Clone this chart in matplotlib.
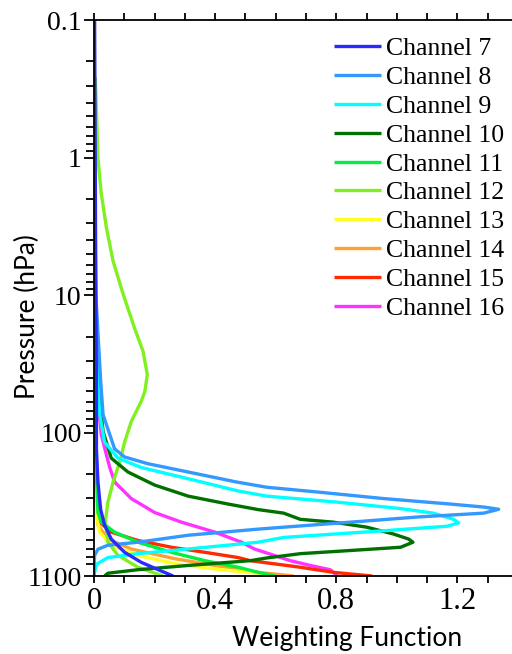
import numpy as np
import matplotlib
matplotlib.use("Agg")
import matplotlib.pyplot as plt
from matplotlib.ticker import LogLocator, NullFormatter, FixedLocator, FixedFormatter, MultipleLocator

plt.rcParams['font.family'] = 'serif'
plt.rcParams['font.serif'] = ['Liberation Serif', 'DejaVu Serif']

# weighting functions (pressure hPa, weight)
p7 = [0.1, 1, 10, 42, 131, 228, 362, 470, 593, 740, 875, 990, 1100]
w7 = [0.002, 0.004, 0.006, 0.008, 0.008, 0.013, 0.022, 0.035, 0.057, 0.101, 0.156, 0.212, 0.261]

p8 = [0.3, 1, 10, 42, 74, 103, 131, 150, 168, 193, 228, 249, 270, 301, 330, 347, 360,
      384, 410, 447, 486, 502, 556, 625, 657, 703, 778, 1100]
w8 = [0.0, 0.002, 0.006, 0.022, 0.03, 0.052, 0.068, 0.101, 0.178, 0.311, 0.47, 0.57, 0.74,
      0.956, 1.177, 1.287, 1.336, 1.287, 1.067, 0.846, 0.626, 0.542, 0.311, 0.145, 0.046,
      0.013, 0.002, 0.0]

p9 = [0.5, 1, 10, 42, 74, 117, 153, 179, 216, 265, 289, 319, 356, 384, 426, 452, 478,
      516, 577, 625, 700, 757, 808, 904, 1035, 1100]
w9 = [0.0, 0.001, 0.005, 0.013, 0.019, 0.035, 0.079, 0.156, 0.311, 0.476, 0.57, 0.8,
      1.012, 1.12, 1.187, 1.204, 1.166, 0.956, 0.626, 0.542, 0.311, 0.145, 0.046, 0.008,
      0.002, 0.0]

p10 = [0.5, 1, 10, 42, 98, 153, 193, 240, 289, 330, 362, 384, 426, 447, 486, 545, 593,
       625, 680, 718, 757, 813, 851, 922, 990, 1050, 1100]
w10 = [0.0, 0.001, 0.005, 0.013, 0.03, 0.057, 0.112, 0.2, 0.311, 0.443, 0.542, 0.626,
       0.681, 0.791, 0.901, 0.989, 1.039, 1.053, 1.012, 0.846, 0.681, 0.571, 0.516, 0.311,
       0.145, 0.046, 0.035]

p11 = [5, 50, 200, 380, 447, 528, 625, 740, 851, 950, 1035, 1100]
w11 = [0.0, 0.003, 0.008, 0.013, 0.024, 0.068, 0.145, 0.256, 0.366, 0.476, 0.542, 0.598]

p12 = [0.26, 0.45, 1.0, 1.83, 3.24, 5.65, 9.8, 17.4, 25.6, 37.8, 50, 59, 83, 117, 163,
       228, 319, 447, 625, 778, 950, 1100]
w12 = [0.004, 0.008, 0.013, 0.024, 0.041, 0.063, 0.096, 0.134, 0.162, 0.176, 0.168, 0.156,
       0.123, 0.101, 0.085, 0.063, 0.046, 0.037, 0.046, 0.079, 0.145, 0.228]

p13 = [5, 100, 400, 528, 660, 780, 904, 990, 1050, 1100]
w13 = [0.0, 0.004, 0.008, 0.019, 0.057, 0.145, 0.278, 0.421, 0.542, 0.55]

p14 = [5, 100, 300, 470, 593, 700, 824, 922, 1035, 1100]
w14 = [0.0, 0.004, 0.008, 0.013, 0.046, 0.123, 0.267, 0.399, 0.542, 0.659]

p15 = [5, 100, 270, 356, 447, 528, 607, 680, 740, 808, 851, 950, 1035, 1100]
w15 = [0.0, 0.002, 0.002, 0.008, 0.019, 0.057, 0.145, 0.256, 0.366, 0.476, 0.516, 0.681,
       0.791, 0.918]

p16 = [0.8, 10, 50, 103, 145, 179, 228, 301, 380, 447, 528, 625, 700, 851, 922, 990, 1100]
w16 = [0.0, 0.004, 0.01, 0.024, 0.041, 0.052, 0.068, 0.123, 0.2, 0.289, 0.399, 0.487,
       0.53, 0.648, 0.714, 0.78, 0.804]

labels = ["Channel %d" % i for i in range(7, 17)]
pressures = [p7, p8, p9, p10, p11, p12, p13, p14, p15, p16]
weights = [w7, w8, w9, w10, w11, w12, w13, w14, w15, w16]
colors = ["#2a2aff", "#3399ff", "#00ffff", "#007000", "#00f040",
          "#80f020", "#ffff20", "#ffa030", "#ff2a00", "#ff33ff"]

yticks = [0.1, 1, 10, 100, 1100]
ytick_labels = ["0.1", "1", "10", "100", "1100"]
xticks = [0, 0.4, 0.8, 1.2]
xtick_labels = ["0", "0.4", "0.8", "1.2"]

fig = plt.figure(figsize=(5.12, 6.54), dpi=100)
ax = fig.add_axes([94 / 512, 1 - 576 / 654, 1 - 94 / 512, (576 - 20) / 654])

lines = [None] * 10
for i in range(9, -1, -1):
    lines[i], = ax.plot(weights[i], pressures[i], color=colors[i], lw=2.4,
                        solid_capstyle="butt", solid_joinstyle="round")

ax.set_yscale("log")
ax.set_ylim(1100, 0.1)
ax.set_xlim(0, 1.38)

ax.yaxis.set_major_locator(FixedLocator(yticks))
ax.yaxis.set_major_formatter(FixedFormatter(ytick_labels))
ax.yaxis.set_minor_locator(LogLocator(base=10, subs=np.arange(2, 10), numticks=20))
ax.yaxis.set_minor_formatter(NullFormatter())
ax.xaxis.set_major_locator(FixedLocator(xticks))
ax.xaxis.set_major_formatter(FixedFormatter(xtick_labels))
ax.xaxis.set_minor_locator(MultipleLocator(0.1))

ax.spines["right"].set_visible(False)
for s in ["left", "bottom", "top"]:
    ax.spines[s].set_linewidth(1.3)

ax.tick_params(axis="both", which="both", direction="out", width=1.3)
ax.tick_params(axis="x", which="both", top=True, length=5)
ax.tick_params(axis="y", which="major", length=7)
ax.tick_params(axis="y", which="minor", length=6)
ax.tick_params(axis="y", labelsize=20, pad=2)
ax.tick_params(axis="x", labelsize=22, pad=3)

ax.set_xlabel("Weighting Function", fontsize=19, fontfamily="Lato")
ax.xaxis.set_label_coords((347 - 94) / (512 - 94), -0.09)
ax.set_ylabel("Pressure (hPa)", fontsize=19, fontfamily="Lato")
ax.yaxis.set_label_coords(-0.13, 0.466)

leg = fig.legend(lines, labels, loc="upper left", frameon=False,
                 prop={"size": 18.5},
                 handlelength=1.83, handletextpad=0.2, labelspacing=0.23,
                 bbox_to_anchor=(334 / 512, 1 - 37 / 654), borderaxespad=0, borderpad=0)

fig.savefig("out.png", dpi=100)
